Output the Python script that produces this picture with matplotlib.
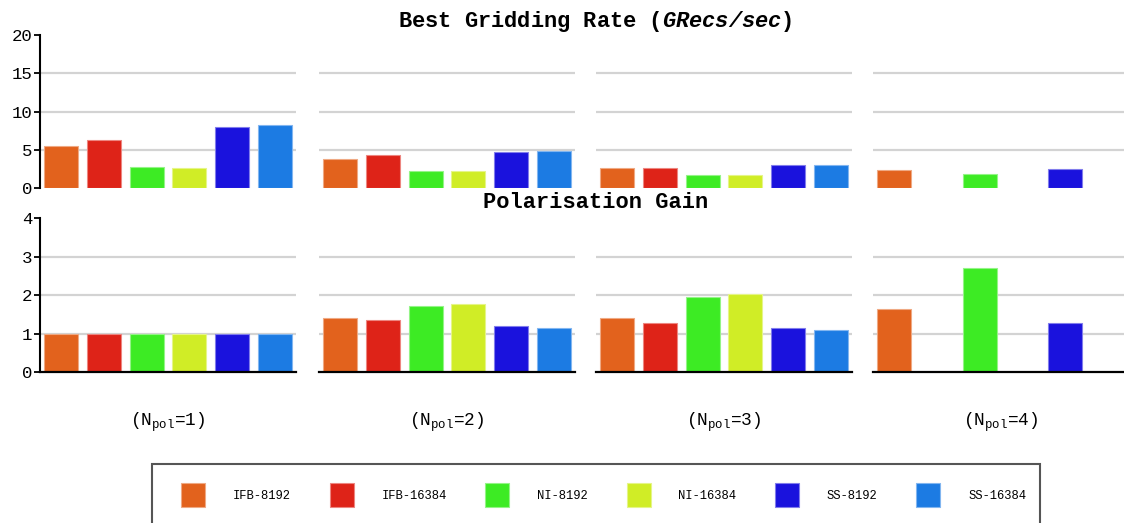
import numpy as np
import matplotlib
matplotlib.use("Agg")
import matplotlib.pyplot as plt
from matplotlib.colors import to_rgb

plt.rcParams['font.family'] = ['Liberation Mono', 'DejaVu Sans']
plt.rcParams['mathtext.fontset'] = 'custom'
plt.rcParams['mathtext.default'] = 'regular'
plt.rcParams['mathtext.bfit'] = 'Liberation Mono:italic:bold'

# Daten
series = ['IFB-8192', 'IFB-16384', 'NI-8192', 'NI-16384', 'SS-8192', 'SS-16384']
colors = ['#E2621D', '#DE2318', '#3DEB24', '#D0ED26', '#1A12DD', '#1C7BE3']
groups = ['(N$_{pol}$=1)', '(N$_{pol}$=2)', '(N$_{pol}$=3)', '(N$_{pol}$=4)']

rate_npol1 = [5.5, 6.3, 2.75, 2.6, 8.0, 8.3]
rate_npol2 = [3.8, 4.3, 2.2, 2.2, 4.65, 4.8]
rate_npol3 = [2.55, 2.55, 1.7, 1.65, 2.95, 2.95]
rate_npol4 = [2.35, np.nan, 1.8, np.nan, 2.45, np.nan]

gain_npol1 = [1.0, 1.0, 1.0, 1.0, 1.0, 1.0]
gain_npol2 = [1.39, 1.34, 1.71, 1.77, 1.19, 1.14]
gain_npol3 = [1.39, 1.27, 1.95, 2.03, 1.14, 1.09]
gain_npol4 = [1.64, np.nan, 2.70, np.nan, 1.26, np.nan]

rates = [rate_npol1, rate_npol2, rate_npol3, rate_npol4]
gains = [gain_npol1, gain_npol2, gain_npol3, gain_npol4]

W, H = 1124, 523
fig = plt.figure(figsize=(W / 100, H / 100), dpi=100)

lefts = [40, 319, 596, 873]
breite = 256


def hell(c, f=0.45):
    r, g, b = to_rgb(c)
    return (r + (1 - r) * f, g + (1 - g) * f, b + (1 - b) * f)


def panel(left, top, bottom, werte, ymax, step, erste, basislinie):
    ax = fig.add_axes([left / W, 1 - bottom / H, breite / W, (bottom - top) / H])
    x = np.arange(len(series))
    ax.bar(x, werte, width=0.8, color=colors,
           edgecolor=[hell(c) for c in colors], linewidth=0.8, zorder=3)
    ax.set_xlim(-0.5, len(series) - 0.5)
    ax.set_ylim(0, ymax)
    ax.set_yticks(np.arange(0, ymax + step, step))
    ax.set_xticks([])
    ax.yaxis.grid(True, color='#d3d3d3', linewidth=1.6, zorder=0)
    gl = ax.get_ygridlines()
    gl[0].set_visible(False)
    gl[-1].set_visible(False)
    for s in ['top', 'right']:
        ax.spines[s].set_visible(False)
    ax.spines['bottom'].set_visible(basislinie)
    ax.spines['bottom'].set_linewidth(1.6)
    ax.spines['bottom'].set_zorder(4)
    if erste:
        ax.spines['left'].set_linewidth(1.5)
        ax.tick_params(axis='y', length=4.5, width=1.3, labelsize=12.5,
                       pad=1, direction='out')
    else:
        ax.spines['left'].set_visible(False)
        ax.tick_params(axis='y', left=False, labelleft=False)
    return ax


for i, left in enumerate(lefts):
    panel(left, 35, 188, rates[i], 20, 5, i == 0, False)
    ax = panel(left, 218, 372, gains[i], 4, 1, i == 0, True)
    ax.text(0.5, -0.33, groups[i], transform=ax.transAxes,
            ha='center', va='center', fontsize=12.8)

fig.text(595.5 / W, 1 - 21 / H, r'Best Gridding Rate ($\mathbfit{GRecs/sec}$)',
         ha='center', va='center', fontsize=15.8, fontweight='bold')
fig.text(596 / W, 1 - 203 / H, 'Polarisation Gain',
         ha='center', va='center', fontsize=15.8, fontweight='bold')

# Legende
handles = [plt.Rectangle((0, 0), 1, 1, facecolor=c, edgecolor=hell(c), linewidth=0.8)
           for c in colors]
leg = fig.legend(handles, series, ncol=6, loc='center left',
                 bbox_to_anchor=(181 / W, 1 - 495 / H), borderaxespad=0,
                 borderpad=0, fontsize=8.7, handlelength=2.0, handleheight=2.6,
                 handletextpad=2.3, columnspacing=3.19, frameon=False)
rahmen = plt.Rectangle((152 / W, -6 / H), (1040 - 152) / W, (523 - 464 + 6) / H,
                       transform=fig.transFigure, fill=False,
                       edgecolor='#555555', linewidth=1.5)
fig.add_artist(rahmen)

fig.savefig('out.png', dpi=100)
